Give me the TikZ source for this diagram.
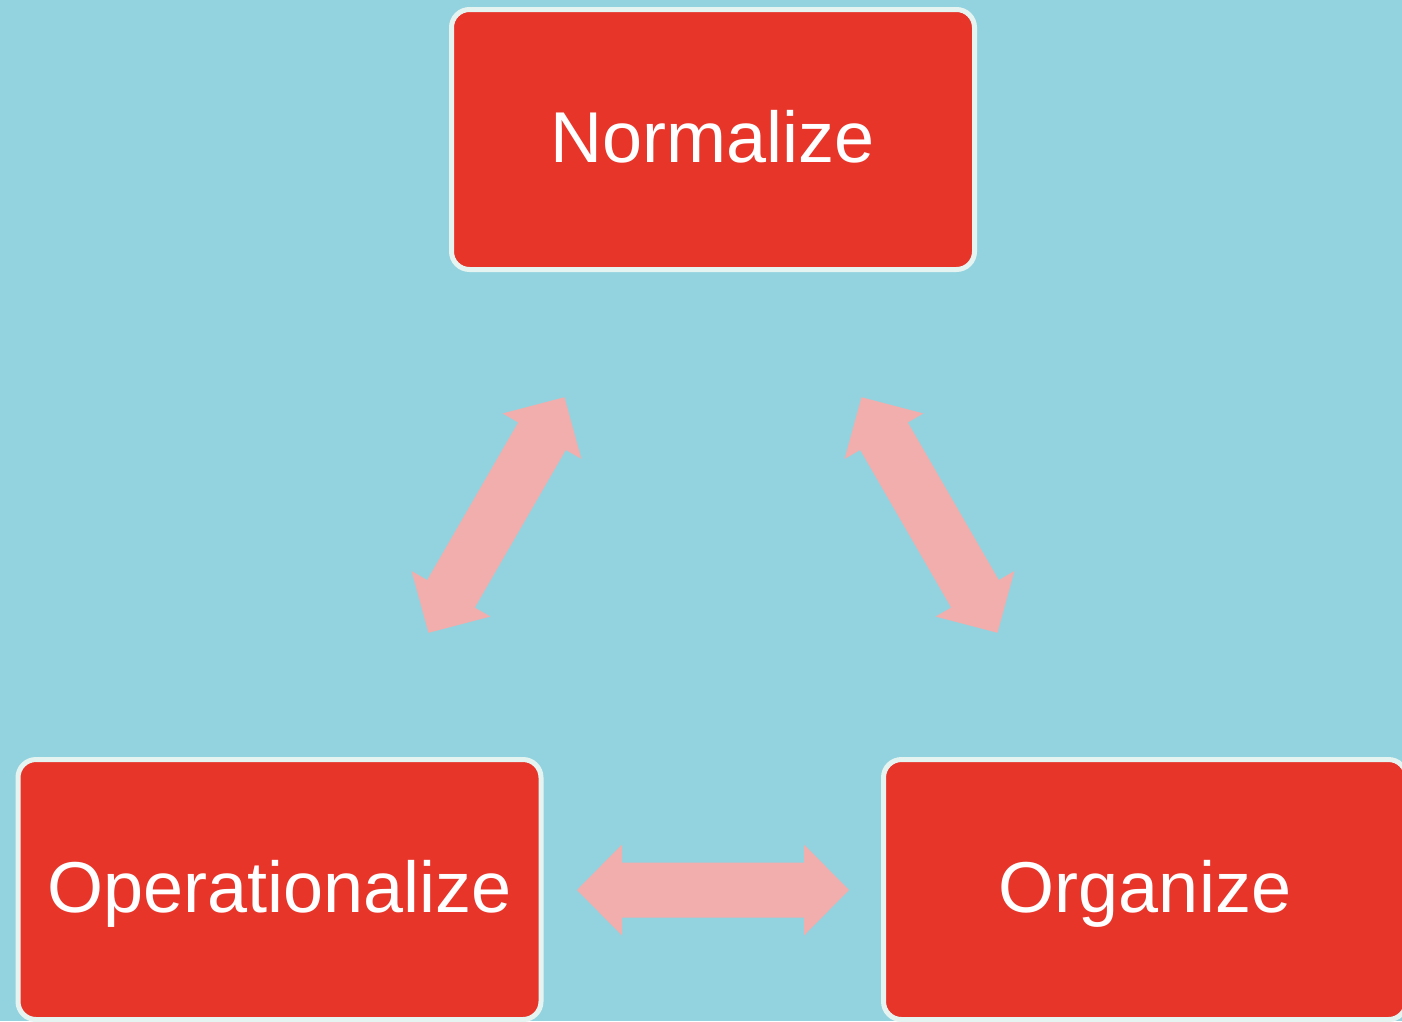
\documentclass[tikz,border=0pt]{standalone}
\usepackage{fontspec}
\setmainfont{Liberation Sans}
\definecolor{bgc}{HTML}{93D3DF}
\definecolor{boxred}{HTML}{E8352A}
\definecolor{boxline}{HTML}{E6F4F1}
\definecolor{arrowc}{HTML}{F1AEAC}
\tikzset{
  stagebox/.style={draw=boxline, line width=5pt, fill=boxred, rounded corners=18pt,
    minimum width=523pt, minimum height=260pt, inner sep=0pt,
    text height=60pt, text depth=15pt,
    text=white, font=\fontsize{72}{80}\selectfont},
  blockarrow/.style={fill=arrowc, draw=none}
}
\newcommand{\dblarrow}[2]{%
  \begin{scope}[shift={(#1)}, rotate=#2]
    \fill[blockarrow] (-136,0) -- (-91,45.5) -- (-91,27.5) -- (91,27.5) -- (91,45.5) -- (136,0)
      -- (91,-45.5) -- (91,-27.5) -- (-91,-27.5) -- (-91,-45.5) -- cycle;
  \end{scope}}
\begin{document}
\begin{tikzpicture}[x=1pt, y=-1pt]
  \useasboundingbox (0,0) rectangle (1402,1021);
  \clip (0,0) rectangle (1402,1021);
  \fill[bgc] (0,0) rectangle (1402,1021);
  \node[stagebox] (norm) at (713,139.5) {Normalize};
  \node[stagebox] (oper) at (279.5,889.5) {Operationalize};
  \node[stagebox] (org) at (1145,889.5) {Organize};
  \coordinate (a1) at (496.5,515);
  \coordinate (a2) at (929.5,515);
  \coordinate (a3) at (713,890);
  \dblarrow{a1}{60}
  \dblarrow{a2}{-60}
  \dblarrow{a3}{0}
\end{tikzpicture}
\end{document}
